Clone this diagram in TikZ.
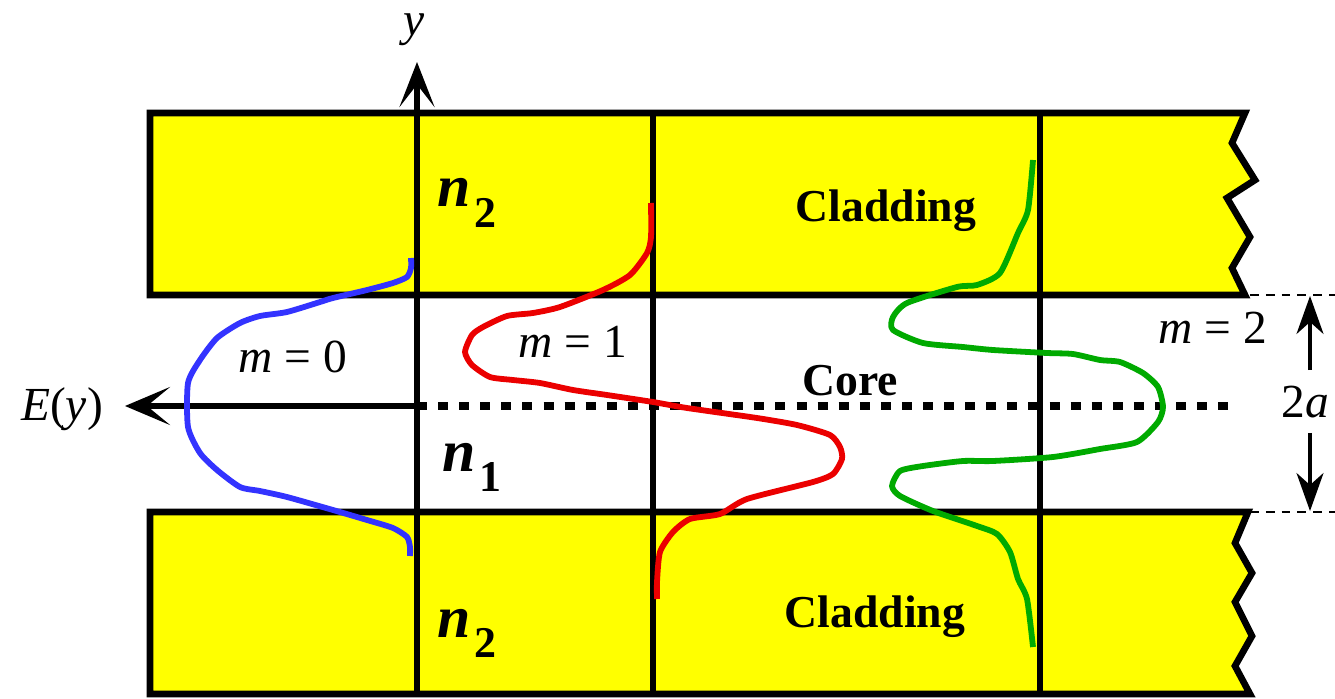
\documentclass[tikz,border=0pt]{standalone}
\usepackage{fontspec}
\setmainfont{Liberation Serif}
\usepackage{tikz}
\usetikzlibrary{arrows.meta, positioning}

\definecolor{cladyellow}{RGB}{255,255,0}
\definecolor{modeblue}{RGB}{51,51,255}
\definecolor{modered}{RGB}{235,0,0}
\definecolor{modegreen}{RGB}{0,170,0}

\newcommand{\refidx}[1]{{\fontsize{34}{36}\selectfont\bfseries\itshape n}\kern2pt\raisebox{-0.42cm}{\fontsize{25}{28}\selectfont\bfseries #1}}

\begin{document}
\begin{tikzpicture}[x=0.02cm, y=-0.02cm,
  wall/.style={line width=3.8pt},
  mode/.style={line width=3.3pt, line join=round},
  coreline/.style={line width=4.2pt, dash pattern=on 5.7pt off 6.3pt},
  dimline/.style={line width=1.2pt, dash pattern=on 5pt off 4pt},
  lbl/.style={font=\fontsize{27}{30}\selectfont, inner sep=0pt},
  bold/.style={font=\fontsize{26}{30}\selectfont\bfseries, inner sep=0pt}]
  \useasboundingbox (0,0) rectangle (1335,699);
  \filldraw[wall, fill=cladyellow] (150,113) -- (1245,113) -- (1232,143) -- (1255,180) -- (1227,198) -- (1250,237) -- (1232,268) -- (1245,295) -- (150,295) -- cycle;
  \filldraw[wall, fill=cladyellow] (150,512) -- (1248,512) -- (1235,543) -- (1252,573) -- (1235,602) -- (1252,636) -- (1235,666) -- (1250,694) -- (150,694) -- cycle;
  \draw[wall] (653,113) -- (653,694);
  \draw[wall] (1040,113) -- (1040,694);

  \coordinate (ybot) at (417,694);
  \coordinate (ytip) at (417,62);
  \coordinate (origin) at (417,406);
  \coordinate (etip) at (125,406);
  \coordinate (coreend) at (1237,406);
  \draw[wall, -{Stealth[length=0.9cm, width=0.7cm, inset=0.45cm]}] (ybot) -- (ytip);
  \draw[wall, -{Stealth[length=0.9cm, width=0.76cm, inset=0.46cm]}] (origin) -- (etip);
  \draw[coreline] (origin) -- (coreend);

  \draw[mode, modeblue] plot[smooth, tension=0.4] coordinates {(411,258) (411,268) (407,277) (393,283) (367,290) (333,298) (320,302) (287,312) (260,316) (240,323) (217,338) (200,360) (188,383) (188,427) (200,453) (217,470) (240,487) (260,491) (287,497) (333,510) (367,520) (393,528) (407,537) (410,547) (410,556)};
  \draw[mode, modered] plot[smooth, tension=0.4] coordinates {(651,203) (651,237) (647,253) (630,275) (603,290) (560,307) (533,313) (507,316) (483,327) (472,335) (465,352) (472,365) (490,377) (513,380) (540,383) (573,390) (607,395) (653,402) (687,408) (757,418) (797,425) (830,435) (840,447) (842,459) (833,474) (813,482) (747,499) (720,514) (690,519) (673,532) (660,552) (657,582) (657,599)};
  \draw[mode, modegreen] plot[smooth, tension=0.4] coordinates {(1033,160) (1028,210) (1018,233) (1000,273) (977,285) (957,287) (907,303) (893,317) (893,330) (923,343) (963,347) (993,350) (1047,353) (1073,354) (1100,360) (1120,362) (1143,373) (1158,387) (1163,407) (1158,422) (1137,442) (1100,449) (1053,457) (993,461) (963,461) (923,466) (900,471) (892,486) (900,496) (933,511) (977,526) (997,534) (1010,552) (1018,579) (1027,599) (1033,647)};

  \node[lbl, anchor=base] (ylabel) at (414,36) {\textit{y}};
  \node[lbl, anchor=base] (elabel) at (62,420) {\textit{E}(\textit{y})};
  \node[lbl, anchor=base west] (mzero) at (238,372) {\textit{m} = 0};
  \node[lbl, anchor=base west] (mone) at (518,357) {\textit{m} = 1};
  \node[lbl, anchor=base west] (mtwo) at (1158,343) {\textit{m} = 2};
  \node[bold, anchor=base west] (core) at (802,395) {Core};
  \node[bold, anchor=base] (cladtop) at (886,222) {Cladding};
  \node[bold, anchor=base] (cladbot) at (875,627) {Cladding};
  \node[inner sep=0pt, anchor=base west] (ntwotop) at (437,207) {\refidx{2}};
  \node[inner sep=0pt, anchor=base west] (none) at (442,471) {\refidx{1}};
  \node[inner sep=0pt, anchor=base west] (ntwobot) at (437,637) {\refidx{2}};

  \node[lbl, inner ysep=0.3cm, anchor=base] (twoa) at (1305,417) {2\textit{a}};
  \coordinate (atop) at (1310,296);
  \coordinate (abot) at (1310,511);
  \draw[dimline] (1250,295) -- (1335,295);
  \draw[dimline] (1250,512) -- (1335,512);
  \draw[line width=1.8pt, -{Stealth[length=0.76cm, width=0.54cm, inset=0.24cm]}] (atop |- twoa.north) -- (atop);
  \draw[line width=1.8pt, -{Stealth[length=0.76cm, width=0.54cm, inset=0.24cm]}] (abot |- twoa.south) -- (abot);
\end{tikzpicture}
\end{document}
